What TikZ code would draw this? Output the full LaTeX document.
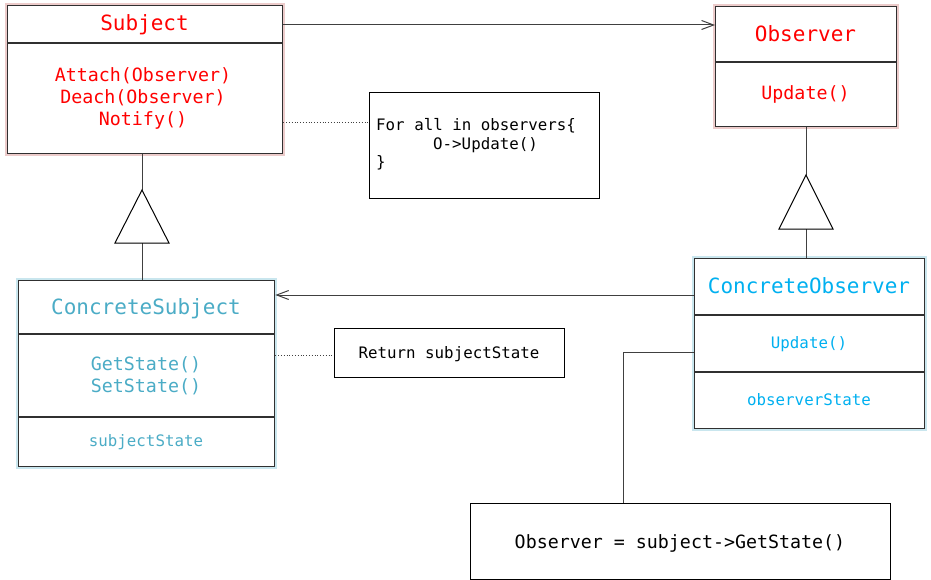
\documentclass[tikz,border=0pt]{standalone}
\usepackage{fontspec}
\setmonofont{DejaVu Sans Mono}
\usetikzlibrary{arrows.meta,calc}
\definecolor{subjred}{HTML}{FF0000}
\definecolor{csblue}{HTML}{4BACC6}
\definecolor{coblue}{HTML}{00B0F0}
\definecolor{glowred}{HTML}{E6B9B8}
\definecolor{glowblue}{HTML}{B7DEE8}
\definecolor{border}{HTML}{303030}
\definecolor{wire}{HTML}{404040}
\tikzset{
  box/.style={draw=border, line width=1.3pt, fill=white, rectangle, inner sep=0pt, anchor=north west},
  glowR/.style={preaction={draw=glowred!75, line width=5pt}},
  glowB/.style={preaction={draw=glowblue!75, line width=5pt}},
  notebox/.style={draw=black, line width=0.9pt, fill=white, rectangle, inner sep=0pt, anchor=north west},
  divider/.style={draw=border, line width=1.2pt},
  wireline/.style={draw=wire, line width=1pt},
  dotline/.style={draw=wire, line width=0.8pt, dotted},
  openarrow/.style={wireline, -{Straight Barb[length=12pt,width=9pt]}},
  tri/.style={draw=black, line width=1pt, fill=white},
  ttitle/.style={font=\ttfamily\fontsize{21}{25}\selectfont, anchor=base, inner sep=0pt},
  tmeth/.style={font=\ttfamily\fontsize{18.3}{22}\selectfont, anchor=base, inner sep=0pt},
  tsmall/.style={font=\ttfamily\fontsize{15.8}{19}\selectfont, anchor=base, inner sep=0pt},
}
\begin{document}
\begin{tikzpicture}[x=1pt,y=-1pt]
\useasboundingbox (0,0) rectangle (931,580);

% Subject
\node[box, glowR, minimum width=275pt, minimum height=148pt] (subj) at (7,5) {};
\draw[divider] (subj.west |- 0,43) -- (subj.east |- 0,43);
\node[ttitle, subjred] (subjT) at (144.5,31) {Subject};
\node[tmeth, subjred] (subjM1) at (143,82) {Attach(Observer)};
\node[tmeth, subjred] (subjM2) at (143,104) {Deach(Observer)};
\node[tmeth, subjred] (subjM3) at (143,126) {Notify()};

% Observer
\node[box, glowR, minimum width=181pt, minimum height=120pt] (obs) at (715,6) {};
\draw[divider] (obs.west |- 0,62) -- (obs.east |- 0,62);
\node[ttitle, subjred] (obsT) at (805.5,42) {Observer};
\node[tmeth, subjred] (obsM) at (805.5,100) {Update()};

% ConcreteSubject
\node[box, glowB, minimum width=256pt, minimum height=186pt] (cs) at (18,280) {};
\draw[divider] (cs.west |- 0,334) -- (cs.east |- 0,334);
\draw[divider] (cs.west |- 0,417) -- (cs.east |- 0,417);
\node[ttitle, csblue] (csT) at (146,314) {ConcreteSubject};
\node[tmeth, csblue] (csM1) at (146,370) {GetState()};
\node[tmeth, csblue] (csM2) at (146,392) {SetState()};
\node[tsmall, csblue] (csA) at (146,446) {subjectState};

% ConcreteObserver
\node[box, glowB, minimum width=230pt, minimum height=170pt] (co) at (694,258) {};
\draw[divider] (co.west |- 0,315) -- (co.east |- 0,315);
\draw[divider] (co.west |- 0,372) -- (co.east |- 0,372);
\node[ttitle, coblue] (coT) at (809,293) {ConcreteObserver};
\node[tsmall, coblue] (coM) at (809,348) {Update()};
\node[tsmall, coblue] (coA) at (809,405) {observerState};

% Notes
\node[notebox, minimum width=230pt, minimum height=106pt] (note1) at (369,92) {};
\node[tsmall, anchor=base west] (n1a) at (376,131) {For all in observers\{};
\node[tsmall, anchor=base west] (n1b) at (433,149.5) {O->Update()};
\node[tsmall, anchor=base west] (n1c) at (376,168) {\}};

\node[notebox, minimum width=230pt, minimum height=49pt] (note2) at (334,328) {};
\node[tsmall] (n2) at (449,358) {Return subjectState};

\node[notebox, minimum width=420pt, minimum height=76pt] (note3) at (470,503) {};
\node[tmeth] (n3) at (680,548) {Observer = subject->GetState()};

% Associations
\draw[openarrow] ($(subj.north east)+(0,20)$) -- ($(obs.north west)+(0,19)$);
\draw[openarrow] ($(co.north west)+(0,37)$) -- ($(cs.north east)+(0,15)$);

% Inheritance Subject <- ConcreteSubject
\coordinate (t1a) at (142,190);
\coordinate (t1l) at (115,243);
\coordinate (t1r) at (169,243);
\coordinate (t1b) at (142,243);
\draw[wireline] (t1a |- subj.south) -- (t1a);
\draw[wireline] (t1b) -- (t1b |- cs.north);
\draw[tri] (t1a) -- (t1l) -- (t1r) -- cycle;

% Inheritance Observer <- ConcreteObserver
\coordinate (t2a) at (806,175);
\coordinate (t2l) at (779,229);
\coordinate (t2r) at (833,229);
\coordinate (t2b) at (806,229);
\draw[wireline] (t2a |- obs.south) -- (t2a);
\draw[wireline] (t2b) -- (t2b |- co.north);
\draw[tri] (t2a) -- (t2l) -- (t2r) -- cycle;

% Note links
\draw[dotline] (subj.east |- 0,122) -- (note1.west |- 0,122);
\draw[dotline] (cs.east |- 0,355) -- (note2.west |- 0,355);
\coordinate (elbow) at (623,352);
\draw[wireline] (co.west |- elbow) -- (elbow) -- (elbow |- note3.north);
\end{tikzpicture}
\end{document}
